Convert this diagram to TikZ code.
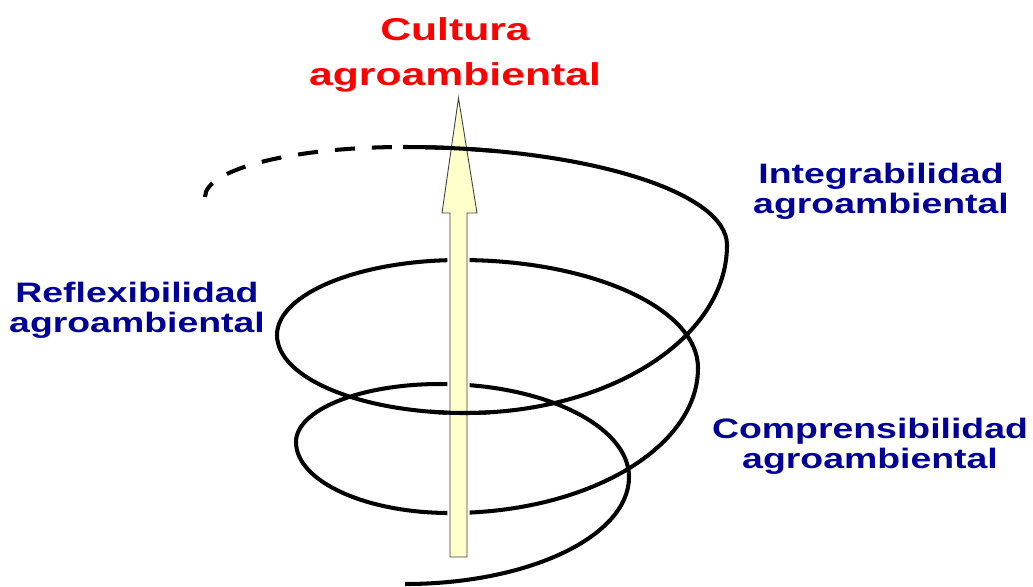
\documentclass[tikz,border=0pt]{standalone}
\usepackage{fontspec}
\setmainfont{Liberation Sans}
\usetikzlibrary{positioning}
\definecolor{spblue}{RGB}{0,0,153}
\definecolor{spred}{RGB}{255,0,0}
\definecolor{shaftyel}{RGB}{255,255,204}
\newcommand{\wide}[1]{\scalebox{1.33}[1]{#1}}
\newcommand{\widered}[1]{\scalebox{1.35}[1]{#1}}
\tikzset{
  lbl/.style={font=\fontsize{16}{17}\selectfont\bfseries, text=spblue, align=center, inner sep=0pt, anchor=north},
  ttl/.style={font=\fontsize{18}{26}\selectfont\bfseries, text=spred, align=center, inner sep=0pt, anchor=north},
  spir/.style={line width=2.3pt, line join=round},
  spdash/.style={spir, dash pattern=on 11.4pt off 9.7pt, dash phase=14.8pt},
  axarr/.style={fill=shaftyel, draw=black!75, line width=0.5pt, preaction={draw=white, line width=3pt}},
}

\begin{document}
\begin{tikzpicture}[x=0.02cm, y=-0.02cm]
\useasboundingbox (0,0) rectangle (1033,586);

% spiral, from the lower end up to the top turn
\path[save path=\spiralpath] (405,584)
  .. controls (529,584) and (629,536) .. (629,477)
  .. controls (629,426) and (544,384) .. (440,384)
  .. controls (360,384) and (296,410) .. (296,442)
  .. controls (296,481) and (365,513) .. (450,513)
  .. controls (587,513) and (698,448) .. (698,368)
  .. controls (698,308) and (591,260) .. (460,260)
  .. controls (359,260) and (277,294) .. (277,335)
  .. controls (277,378) and (361,413) .. (465,413)
  .. controls (610,413) and (727,338) .. (727,245)
  .. controls (727,191) and (582,147) .. (403,147);
\draw[spir, use path=\spiralpath];
\draw[spdash] (403,147) .. controls (294,147) and (205,169) .. (205,197);

% upward arrow
\draw[axarr] (450,557) -- (450,213) -- (442,213) -- (458.5,98) -- (477,213)
  -- (467,213) -- (467,557) -- cycle;

% turns passing in front of the arrow
\begin{scope}
  \clip (430,398) rectangle (490,428);
  \draw[spir, use path=\spiralpath];
\end{scope}
\begin{scope}
  \clip (425,132) rectangle (495,166);
  \draw[spir, use path=\spiralpath];
\end{scope}

\node[ttl] (cultura) at (455,17) {\widered{Cultura}\\\widered{agroambiental}};
\node[lbl] (reflex) at (137,282) {\wide{Reflexibilidad}\\\wide{agroambiental}};
\node[lbl] (integ) at (881,163) {\wide{Integrabilidad}\\\wide{agroambiental}};
\node[lbl] (compr) at (870,418) {\wide{Comprensibilidad}\\\wide{agroambiental}};
\end{tikzpicture}
\end{document}
